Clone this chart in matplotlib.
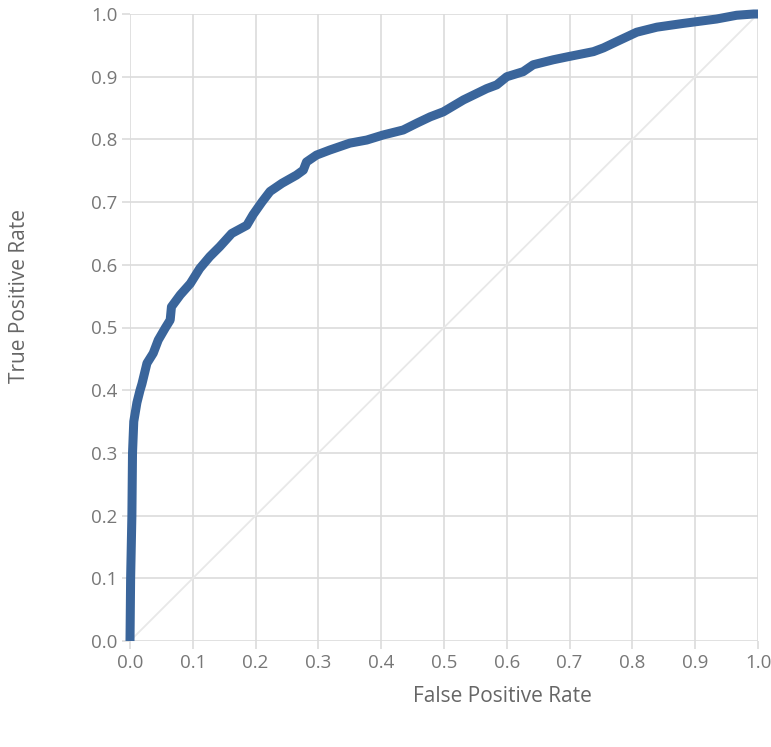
import matplotlib.pyplot as plt

# ROC curve points
fpr = [0.0, 0.001, 0.003, 0.004, 0.006, 0.011, 0.016, 0.019, 0.027, 0.037,
       0.045, 0.056, 0.064, 0.066, 0.080, 0.096, 0.111, 0.127, 0.143, 0.162,
       0.186, 0.196, 0.210, 0.223, 0.242, 0.265, 0.276, 0.281, 0.297, 0.318,
       0.350, 0.377, 0.403, 0.435, 0.457, 0.478, 0.499, 0.531, 0.568, 0.584,
       0.600, 0.626, 0.642, 0.674, 0.698, 0.738, 0.754, 0.775, 0.807, 0.839,
       0.881, 0.934, 0.966, 0.993, 1.0]
tpr = [0.0, 0.1, 0.2, 0.3, 0.35, 0.38, 0.40, 0.41, 0.443, 0.459,
       0.48, 0.499, 0.512, 0.533, 0.552, 0.570, 0.594, 0.613, 0.629, 0.650,
       0.663, 0.680, 0.700, 0.717, 0.730, 0.743, 0.751, 0.764, 0.775, 0.783,
       0.794, 0.799, 0.807, 0.815, 0.826, 0.836, 0.844, 0.863, 0.881, 0.887,
       0.900, 0.908, 0.919, 0.927, 0.932, 0.940, 0.946, 0.956, 0.971, 0.979,
       0.985, 0.992, 0.998, 1.0, 1.0]
ticks = [0.0, 0.1, 0.2, 0.3, 0.4, 0.5, 0.6, 0.7, 0.8, 0.9, 1.0]

plt.rcParams['font.family'] = ['Open Sans', 'DejaVu Sans']

fig = plt.figure(figsize=(7.71, 7.47), dpi=100)
ax = fig.add_axes([130 / 771, 1 - 641 / 747, 628 / 771, 627 / 747])

grid_c = '#dcdcdc'
ax.set_xlim(0, 1)
ax.set_ylim(0, 1)
ax.set_xticks(ticks)
ax.set_yticks(ticks)
ax.set_xticklabels(['{:.1f}'.format(t) for t in ticks])
ax.set_yticklabels(['{:.1f}'.format(t) for t in ticks])
ax.grid(True, color=grid_c, linewidth=1.2)
ax.set_axisbelow(True)
for s in ax.spines.values():
    s.set_visible(False)
ax.tick_params(length=6, width=1.2, color=grid_c, labelcolor='#777777',
               labelsize=13.5, pad=3)

ax.plot([0, 1], [0, 1], color='#e8e8e8', linewidth=1.3, zorder=1)
ax.plot(fpr, tpr, color='#3a659b', linewidth=6.5, solid_capstyle='butt',
        solid_joinstyle='round', clip_on=False, zorder=3)

fig.text(502 / 771, 1 - 697 / 747, 'False Positive Rate', ha='center', va='center',
         fontsize=15, color='#666666')
fig.text(20 / 771, 1 - 296 / 747, 'True Positive Rate', ha='center', va='center',
         rotation=90, fontsize=15, color='#666666')

fig.savefig('out.png', dpi=100)
